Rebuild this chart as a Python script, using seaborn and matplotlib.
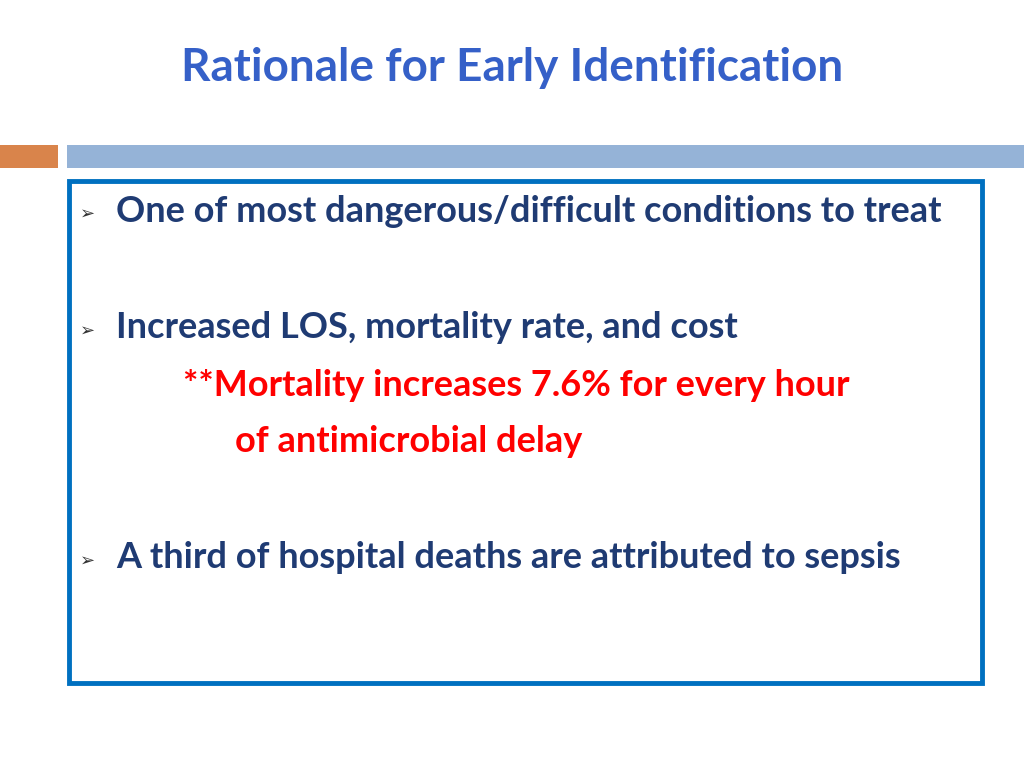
import matplotlib
matplotlib.use("Agg")
import matplotlib.pyplot as plt
import seaborn as sns
from matplotlib.patches import Rectangle

sns.set_style("white")

title = "Rationale for Early Identification"
bullets = [
    "One of most dangerous/difficult conditions to treat",
    "Increased LOS, mortality rate, and cost",
    "A third of hospital deaths are attributed to sepsis",
]
bullet_y = [211, 328, 558]
red_lines = ["**Mortality increases 7.6% for every hour", "of antimicrobial delay"]
red_pos = [(183, 385), (235, 442)]

fig = plt.figure(figsize=(10.24, 7.68), dpi=100)
ax = fig.add_axes([0, 0, 1, 1])
ax.set_xlim(0, 1024)
ax.set_ylim(768, 0)
ax.axis("off")

ax.text(512, 68, title, ha="center", va="center", fontsize=33, fontweight="bold",
        color="#3560C8", family="Lato")

# header bars
ax.add_patch(Rectangle((0, 145), 58, 23, color="#D9844B", lw=0))
ax.add_patch(Rectangle((67, 145), 957, 23, color="#95B3D7", lw=0))

# content box
ax.add_patch(Rectangle((69, 181), 913, 502, fill=False, ec="#0070C0", lw=3.5))

for txt, y in zip(bullets, bullet_y):
    ax.text(88, y + 3, "\u27a2", ha="center", va="center", fontsize=13, color="#333333",
            family="DejaVu Sans")
    ax.text(116, y, txt, ha="left", va="center", fontsize=26, fontweight="bold",
            color="#1F3B73", family="Lato")

for txt, (x, y) in zip(red_lines, red_pos):
    ax.text(x, y, txt, ha="left", va="center", fontsize=26, fontweight="bold",
            color="#FF0000", family="Lato")

fig.savefig("out.png", dpi=100)
